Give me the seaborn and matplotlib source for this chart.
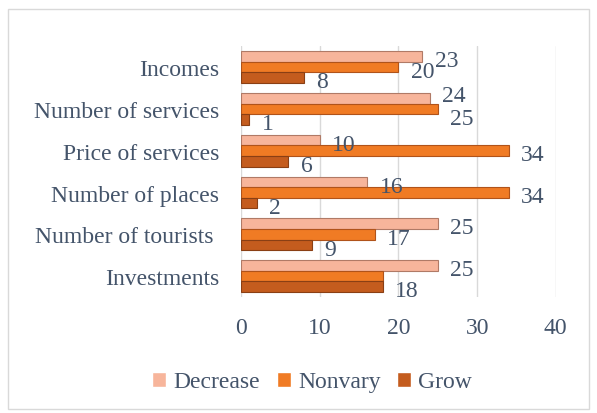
import matplotlib
matplotlib.use("Agg")
import pandas as pd
import seaborn as sns
from matplotlib import pyplot as plt
from matplotlib.patches import Rectangle

categories = ["Incomes", "Number of services", "Price of services",
              "Number of places", "Number of tourists ", "Investments"]
series = ["Decrease", "Nonvary", "Grow"]
decrease = [23, 24, 10, 16, 25, 25]
nonvary = [20, 25, 34, 34, 17, 18]
grow = [8, 1, 6, 2, 9, 18]
x_ticks = [0, 10, 20, 30, 40]

colors = ["#F7B59B", "#F07B24", "#C45C1E"]
edges = ["#B07A66", "#B0531A", "#8A3F14"]
text_color = "#44546A"
fs = 17

values = {"Decrease": decrease, "Nonvary": nonvary, "Grow": grow}
df = pd.DataFrame({
    "category": categories * 3,
    "series": [s for s in series for _ in categories],
    "value": decrease + nonvary + grow,
})

sns.set_theme(style="white")
plt.rcParams["font.family"] = ["Liberation Serif", "DejaVu Serif"]

fig = plt.figure(figsize=(5.97, 4.14), dpi=100)
ax = fig.add_axes([0.404, 0.28, 0.527, 0.606])
sns.barplot(data=df, x="value", y="category", hue="series", order=categories,
            hue_order=series, palette=colors, orient="h", width=0.76,
            saturation=1, ax=ax)

# value labels, shifted right and a little down like the original
nudge = {("Decrease", "Number of services"): 2, ("Nonvary", "Number of services"): -7}
for cont, s, ec in zip(ax.containers, series, edges):
    for bar, cat, v in zip(cont, categories, values[s]):
        bar.set_edgecolor(ec)
        bar.set_linewidth(0.8)
        if s == "Nonvary" and cat == "Investments":
            continue  # sits under the Grow label in the original
        dy = nudge.get((s, cat), -3)
        ax.annotate(str(v), xy=(bar.get_width(), bar.get_y() + bar.get_height() / 2),
                    xytext=(9, dy), textcoords="offset points", ha="left", va="center",
                    fontsize=fs, color=text_color)

ax.set_xlim(0, 40)
ax.set_xticks(x_ticks)
ax.set_xlabel("")
ax.set_ylabel("")
ax.xaxis.grid(True, color="#D9D9D9", lw=1)
ax.set_axisbelow(True)
for sp in ax.spines.values():
    sp.set_visible(False)
ax.tick_params(axis="y", length=0, pad=16, labelsize=fs, labelcolor=text_color)
ax.tick_params(axis="x", length=0, pad=14, labelsize=fs, labelcolor=text_color)

handles, labels = ax.get_legend_handles_labels()
ax.legend_.remove()
fig.legend(handles, labels, loc="center", bbox_to_anchor=(0.523, 0.075), ncol=3,
           frameon=False, fontsize=fs, handlelength=0.6, handleheight=0.6,
           columnspacing=0.7, handletextpad=0.3, labelcolor=text_color)

fig.add_artist(Rectangle((0.0126, 0.0097), 0.974, 0.966, transform=fig.transFigure,
                         fill=False, edgecolor="#D9D9D9", lw=1))

fig.savefig("out.png", dpi=100)
